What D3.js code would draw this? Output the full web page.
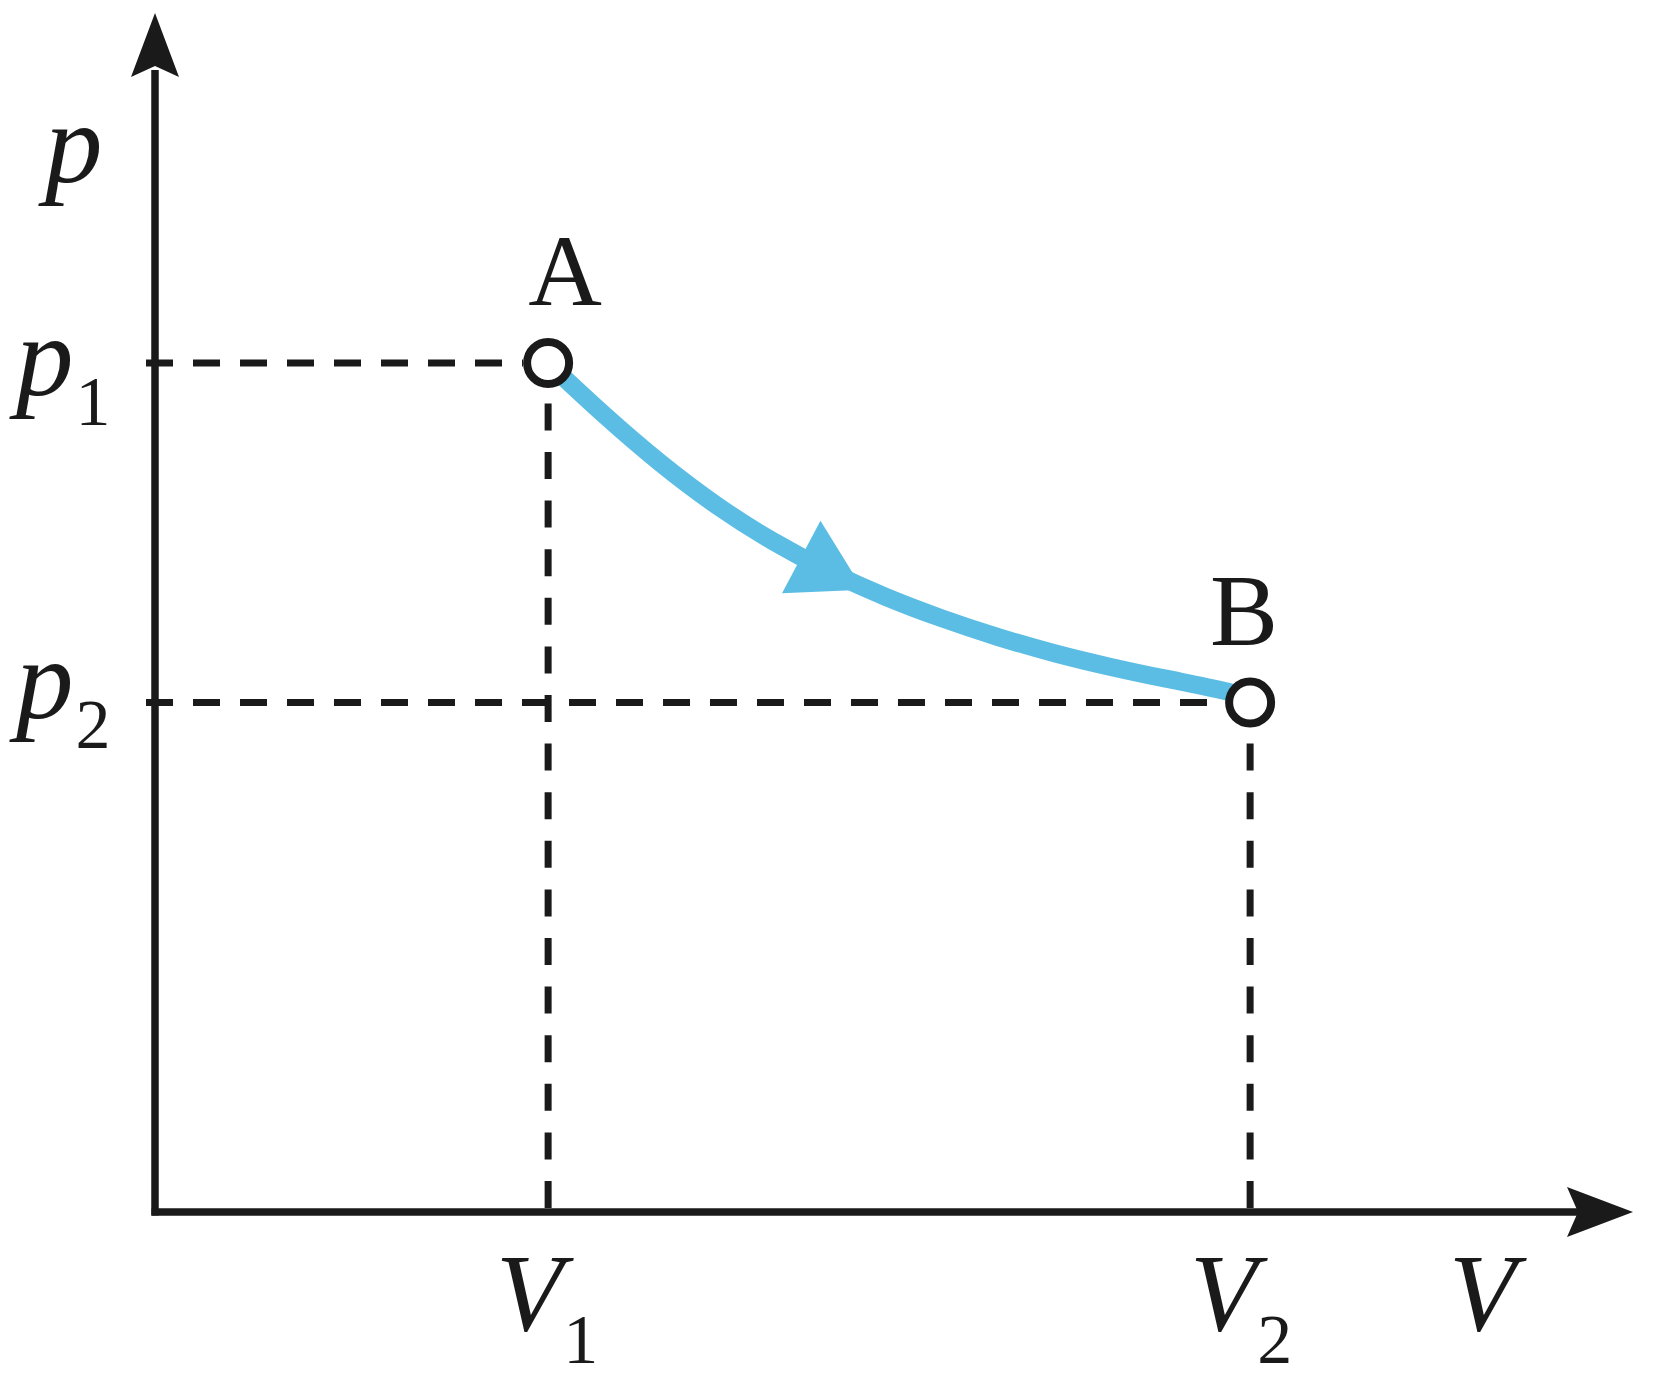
<!DOCTYPE html>
<html>
<head>
<meta charset="utf-8">
<script src="https://cdn.jsdelivr.net/npm/d3@7"></script>
<style>
  html, body { margin: 0; padding: 0; background: #fff; }
</style>
</head>
<body>
<script>
// process A -> B on a p-V diagram (arbitrary units)
const stateNames = ["A", "B"];
const stateV = [2.8, 7.8];
const stateP = [10, 6];

const vTickSubs = ["1", "2"];
const pTickSubs = ["1", "2"];

// blue curve
const curveV = [2.8, 3.2, 3.6, 4.0, 4.4, 4.8, 5.2, 5.6, 6.0, 6.4, 6.8, 7.2, 7.6, 7.8];
const curveP = [10, 9.38, 8.81, 8.31, 7.89, 7.54, 7.24, 6.99, 6.77, 6.58, 6.42, 6.28, 6.15, 6.06];
const arrowAtV = 4.6;

const width = 1660;
const height = 1380;
const ink = "#1a1a1a";
const blue = "#5bbde4";
const serif = "'Liberation Serif', 'Times New Roman', Times, serif";

const svg = d3.select("body").append("svg")
    .attr("width", width)
    .attr("height", height);

const x = d3.scaleLinear().domain([0, 10]).range([155, 1559]);
const y = d3.scaleLinear().domain([0, 10]).range([1212, 363]);

const x0 = x(0), y0 = y(0);

// dashed guide lines
const circleR = 21;
stateV.forEach((v, i) => {
    const px = x(v), py = y(stateP[i]);
    svg.append("line")
        .attr("x1", 146).attr("y1", py)
        .attr("x2", px - circleR - 4).attr("y2", py)
        .attr("stroke", ink).attr("stroke-width", 7)
        .attr("stroke-dasharray", "27,20");
    svg.append("line")
        .attr("x1", px).attr("y1", y0 - 4)
        .attr("x2", px).attr("y2", py + circleR + 14)
        .attr("stroke", ink).attr("stroke-width", 7)
        .attr("stroke-dasharray", "27,21.6");
});

// axes
svg.append("line")
    .attr("x1", x0).attr("y1", y0 + 3.5)
    .attr("x2", x0).attr("y2", 70)
    .attr("stroke", ink).attr("stroke-width", 7.5);
svg.append("line")
    .attr("x1", x0 - 3.5).attr("y1", y0)
    .attr("x2", 1580).attr("y2", y0)
    .attr("stroke", ink).attr("stroke-width", 7.5);

// arrow heads of the axes
svg.append("path")
    .attr("d", `M${x0},13 L${x0 + 24},77 L${x0},66 L${x0 - 24},77 Z`)
    .attr("fill", ink);
svg.append("path")
    .attr("d", `M1633,${y0} L1567,${y0 - 25} L1578,${y0} L1567,${y0 + 25} Z`)
    .attr("fill", ink);

// process curve
const line = d3.line()
    .x((d, i) => x(curveV[i]))
    .y((d, i) => y(curveP[i]))
    .curve(d3.curveBasis);

const curve = svg.append("path")
    .datum(curveV)
    .attr("d", line)
    .attr("fill", "none")
    .attr("stroke", blue)
    .attr("stroke-width", 18);

// arrow on the curve, pointing along it
const node = curve.node();
const total = node.getTotalLength();
let best = 0, bestD = Infinity;
for (let l = 0; l <= total; l += 1) {
    const pt = node.getPointAtLength(l);
    const dd = Math.abs(pt.x - x(arrowAtV));
    if (dd < bestD) { bestD = dd; best = l; }
}
const b = node.getPointAtLength(best);
const b2 = node.getPointAtLength(best + 2);
const ang = Math.atan2(b2.y - b.y, b2.x - b.x) * 180 / Math.PI;
svg.append("path")
    .attr("d", "M70,0 L0,-41 L0,41 Z")
    .attr("transform", `translate(${b.x},${b.y}) rotate(${ang})`)
    .attr("fill", blue);

// state points
svg.selectAll(".state")
    .data(stateV)
    .join("circle")
    .attr("class", "state")
    .attr("cx", d => x(d))
    .attr("cy", (d, i) => y(stateP[i]))
    .attr("r", circleR)
    .attr("fill", "#fff")
    .attr("stroke", ink)
    .attr("stroke-width", 8);

const nameDx = [17, -6];
svg.selectAll(".name")
    .data(stateNames)
    .join("text")
    .attr("class", "name")
    .attr("x", (d, i) => x(stateV[i]) + nameDx[i])
    .attr("y", (d, i) => y(stateP[i]) - 58)
    .attr("text-anchor", "middle")
    .attr("font-family", serif)
    .attr("font-size", 102)
    .attr("fill", ink)
    .text(d => d);

// tick labels p1, p2
const pDy = [32, 15];
pTickSubs.forEach((s, i) => {
    const t = svg.append("text")
        .attr("x", 16)
        .attr("y", y(stateP[i]) + pDy[i])
        .attr("font-family", serif)
        .attr("font-size", 115)
        .attr("font-style", "italic")
        .attr("fill", ink)
        .text("p");
    t.append("tspan")
        .attr("dx", 2).attr("dy", 30)
        .attr("font-size", 70)
        .attr("font-style", "normal")
        .text(s);
});

// tick labels V1, V2
const vDx = [-52, -60];
vTickSubs.forEach((s, i) => {
    const t = svg.append("text")
        .attr("x", x(stateV[i]) + vDx[i])
        .attr("y", 1330)
        .attr("font-family", serif)
        .attr("font-size", 110)
        .attr("font-style", "italic")
        .attr("fill", ink)
        .text("V");
    t.append("tspan")
        .attr("dx", 0).attr("dy", 33)
        .attr("font-size", 70)
        .attr("font-style", "normal")
        .text(s);
});

// axis names
svg.append("text")
    .attr("x", 45).attr("y", 182)
    .attr("font-family", serif)
    .attr("font-size", 115)
    .attr("font-style", "italic")
    .attr("fill", ink)
    .text("p");
svg.append("text")
    .attr("x", 1449).attr("y", 1330)
    .attr("font-family", serif)
    .attr("font-size", 110)
    .attr("font-style", "italic")
    .attr("fill", ink)
    .text("V");
</script>
</body>
</html>
